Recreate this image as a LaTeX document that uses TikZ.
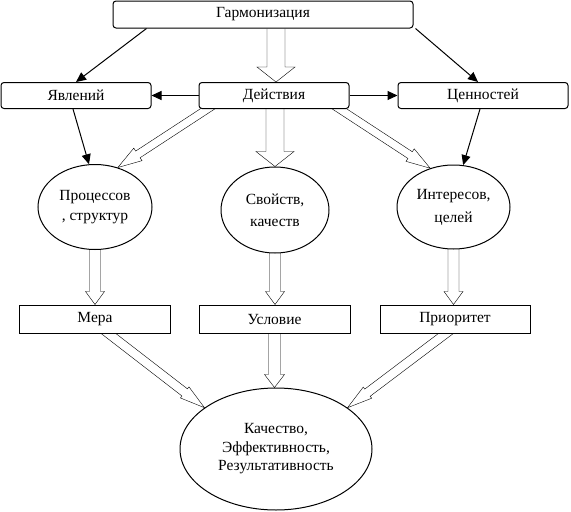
\documentclass[tikz,border=0pt]{standalone}
\usepackage{fontspec}
\setmainfont{Liberation Serif}
\usetikzlibrary{calc,shapes.geometric,arrows.meta,backgrounds}
% hollow block arrow: start, tip, shaft half width, head half width, head length
\newcommand\harrow[5]{%
  \path #1 coordinate (hA);
  \path #2 coordinate (hB);
  \path ($(hB)!#5!(hA)$) coordinate (hH);
  \draw[hollowarr] ($(hA)!#3!90:(hB)$) -- ($(hH)!#3!90:(hB)$) -- ($(hH)!#4!90:(hB)$) -- (hB)
     -- ($(hH)!#4!-90:(hB)$) -- ($(hH)!#3!-90:(hB)$) -- ($(hA)!#3!-90:(hB)$);
}
\begin{document}
\begin{tikzpicture}[x=1pt,y=-1pt, font=\fontsize{15.5}{19}\selectfont, line width=1pt,
  rbox/.style={draw, fill=white, rounded corners=3pt, minimum height=26pt, inner sep=0pt},
  sbox/.style={draw, fill=white, minimum height=28pt, minimum width=151pt, inner sep=0pt},
  ell/.style={draw, fill=white, ellipse, inner sep=0pt, align=center},
  tharrow/.style={-{Triangle[length=10pt,width=9pt]}},
  hollowarr/.style={draw, fill=white, line join=miter}]
\useasboundingbox (0,0) rectangle (571,512);

\node[rbox, minimum width=300pt, minimum height=27pt] (garm) at (263,14.5) {Гармонизация};
\node[rbox, minimum width=150pt] (yavl) at (76,95.5) {Явлений};
\node[rbox, minimum width=150pt] (deist) at (274,95.5) {Действия};
\node[rbox, minimum width=170pt] (tsen) at (483,95.5) {Ценностей};

\node[ell, minimum width=114pt, minimum height=85pt, font=\fontsize{15.5}{20}\selectfont] (proc) at (95,207) {Процессов\\, структур};
\node[ell, minimum width=108pt, minimum height=86pt, font=\fontsize{15.5}{22}\selectfont] (svoi) at (275,210) {Свойств,\\качеств};
\node[ell, minimum width=113pt, minimum height=84pt, font=\fontsize{15.5}{23}\selectfont] (inter) at (453.5,207) {Интересов,\\целей};

\node[sbox] (mera) at (95,319) {Мера};
\node[sbox] (usl) at (274.5,319) {Условие};
\node[sbox, minimum width=150pt] (prior) at (455,319) {Приоритет};

\node[ell, minimum width=192pt, minimum height=122pt, font=\fontsize{15.5}{18.5}\selectfont] (kach) at (276,449) {Качество,\\Эффективность,\\Результативность};

\begin{scope}[on background layer]
\harrow{([xshift=13pt]garm.south)}{([xshift=2pt]deist.north)}{9pt}{19pt}{15pt}
\harrow{(deist.south -| svoi.north)}{(svoi.north)}{9pt}{19pt}{15pt}
\harrow{($(deist.south west)+(15,-4)$)}{(proc.60)}{4pt}{7.5pt}{24pt}
\harrow{($(deist.south east)+(-16,-4)$)}{(inter.121)}{4pt}{7.5pt}{24pt}
\harrow{([yshift=3pt]proc.south)}{(proc.south |- mera.north)}{5.5pt}{9.5pt}{13pt}
\harrow{([yshift=3pt]svoi.south)}{(svoi.south |- usl.north)}{5.5pt}{9.5pt}{13pt}
\harrow{([yshift=3pt]inter.south)}{(inter.south |- prior.north)}{5.5pt}{9.5pt}{13pt}
\harrow{([yshift=2pt]usl.south)}{(usl.south |- kach.north)}{6pt}{10pt}{13pt}
\harrow{($(mera.south west)+(83,-5)$)}{(kach.150)}{4.5pt}{7pt}{25pt}
\harrow{($(prior.south east)+(-78,-5)$)}{(kach.30)}{4.5pt}{7pt}{25pt}
\end{scope}

\draw[tharrow] ([xshift=34pt]garm.south west) -- (yavl.north);
\draw[tharrow] ([xshift=2pt]garm.south east) -- ([xshift=-5pt]tsen.north);
\draw[tharrow] (deist.west) -- (yavl.east);
\draw[tharrow] (deist.east) -- (tsen.west);
\draw[tharrow] ([xshift=-3pt]yavl.south) -- (proc.98);
\draw[tharrow] ([xshift=-3pt]tsen.south) -- (inter.77);
\end{tikzpicture}
\end{document}
